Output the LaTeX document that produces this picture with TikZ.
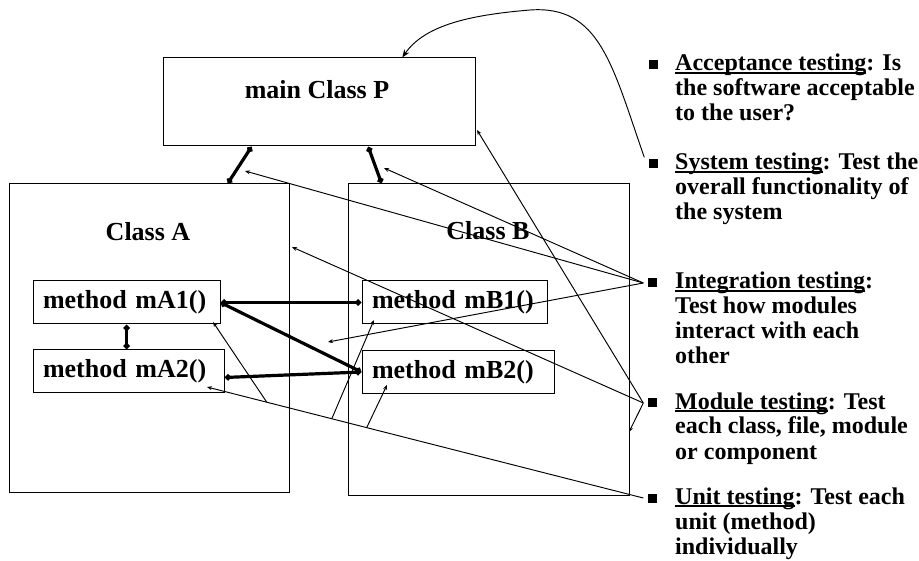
\documentclass[tikz,border=0pt]{standalone}
\usepackage{fontspec}
\setmainfont{Liberation Serif}
\usetikzlibrary{arrows.meta,calc}

% underline that runs through the descenders, as on the slide
\newsavebox\ulbox
\newcommand\ulword[1]{\sbox\ulbox{#1}\rlap{\rule[-3pt]{\wd\ulbox}{1.6pt}}\usebox\ulbox}

\begin{document}
\begin{tikzpicture}[x=1pt,y=-1pt,
  classbox/.style={draw, line width=1pt, inner sep=0pt},
  lbl/.style={font=\fontsize{26}{28}\selectfont\bfseries, inner sep=0pt},
  methbox/.style={draw, line width=1pt, inner ysep=0pt, inner xsep=10pt,
    minimum height=43pt, align=left, font=\fontsize{26}{28}\selectfont\bfseries},
  link/.style={line width=3.2pt,
    {Diamond[length=7pt,width=7pt]}-{Diamond[length=7pt,width=7pt]}},
  pointer/.style={line width=0.95pt, -{Stealth[length=5pt,width=4pt]}},
  sqbullet/.style={fill, minimum size=9pt, inner sep=0pt},
  % anchored at the baseline of the last line of each item
  item/.style={anchor=base west, inner sep=0pt, align=left,
    font=\fontsize{24}{25}\selectfont\bfseries}]

\fill[white] (0,0) rectangle (919,561);
\useasboundingbox (0,0) rectangle (919,561);

% classes
\node[classbox, minimum width=312pt, minimum height=88pt] (P) at (319,102) {};
\node[lbl] (Pname) at (317,90) {main Class P};
\node[classbox, minimum width=280pt, minimum height=308pt] (A) at (149,338) {};
\node[lbl] (Aname) at (148,232) {Class A};
\node[classbox, minimum width=281pt, minimum height=311pt] (B) at (488.5,339.5) {};
\node[lbl] (Bname) at (488,231) {Class B};

% methods
\node[methbox, text width=167pt] (mA1) at (126.5,302.5) {method mA1()};
\node[methbox, text width=171pt] (mA2) at (128.5,371.5) {method mA2()};
\node[methbox, text width=165pt] (mB1) at (454.5,302.5) {method mB1()};
\node[methbox, text width=172pt] (mB2) at (458,372) {method mB2()};

% associations
\draw[link] ($(P.south west)!0.285!(P.south east)$) -- ($(A.north west)!0.78!(A.north east)$);
\draw[link] ($(P.south west)!0.657!(P.south east)$) -- ($(B.north west)!0.121!(B.north east)$);
\draw[link] (mA1.east) -- (mB1.west);
\draw[link] (mA1.east) -- (mB2.west);
\draw[link] ([yshift=-6pt]mA2.east) -- (mB2.west);
\draw[link] (mA1.south) -- (mA1.south |- mA2.north);

% testing levels
\node[sqbullet] (bAcc) at (653,65) {};
\node[item] (tAcc) at (675,121) {\ulword{Acceptance testing}: Is\\the software acceptable\\to the user?};
\node[sqbullet] (bSys) at (653,164) {};
\node[item] (tSys) at (675,220) {\ulword{System testing}: Test the\\overall functionality of\\the system};
\node[sqbullet] (bInt) at (652,283) {};
\node[item] (tInt) at (675,364) {\ulword{Integration testing}:\\Test how modules\\interact with each\\other};
\node[sqbullet] (bMod) at (652,403) {};
\node[item] (tMod) at (675,459) {\ulword{Module testing}: Test\\each class, file, module\\or component};
\node[sqbullet] (bUni) at (652,498) {};
\node[item] (tUni) at (675,554) {\ulword{Unit testing}: Test each\\unit (method)\\individually};

% where the pointers leave each bullet
\coordinate (cSys) at ($(bSys.north west)+(-4,-2)$);
\coordinate (cInt) at ($(bInt.west)+(-4,0)$);
\coordinate (cMod) at ($(bMod.west)+(-4,0)$);
\coordinate (cUni) at ($(bUni.west)+(-4,0)$);

% pointer targets
\coordinate (tPtop) at ($(P.north west)!0.766!(P.north east)$);
\coordinate (tPA) at (245,171);
\coordinate (tPB) at (384,168);
\coordinate (tGap) at (328,342);
\coordinate (tPr) at (477,130);
\coordinate (tAr) at (292,247);
\coordinate (tBr) at (629,432);
\coordinate (tA2) at (207,387);
\coordinate (tA1) at (213,322);
\coordinate (tB1) at (374,320);
\coordinate (tB2) at (387,385);

% system testing
\draw[line width=0.95pt, -{Stealth[length=8pt,width=6pt]}]
  (cSys) .. controls (612,65) and (600,5) .. (530,10)
         .. controls (470,15) and (425,25) .. (tPtop);

% integration testing
\draw[pointer] (cInt) -- (tPA);
\draw[pointer] (cInt) -- (tPB);
\draw[pointer] (cInt) -- (tGap);

% module testing
\draw[pointer] (cMod) -- (tPr);
\draw[pointer] (cMod) -- (tAr);
\draw[pointer] (cMod) -- (tBr);

% unit testing
\draw[pointer] (cUni) -- (tA2);
\coordinate (uA1) at ($(cUni)!0.863!(tA2)$);
\coordinate (uB1) at ($(cUni)!0.714!(tA2)$);
\coordinate (uB2) at ($(cUni)!0.634!(tA2)$);
\draw[pointer] (uA1) -- (tA1);
\draw[pointer] (uB1) -- (tB1);
\draw[pointer] (uB2) -- (tB2);

\end{tikzpicture}
\end{document}
